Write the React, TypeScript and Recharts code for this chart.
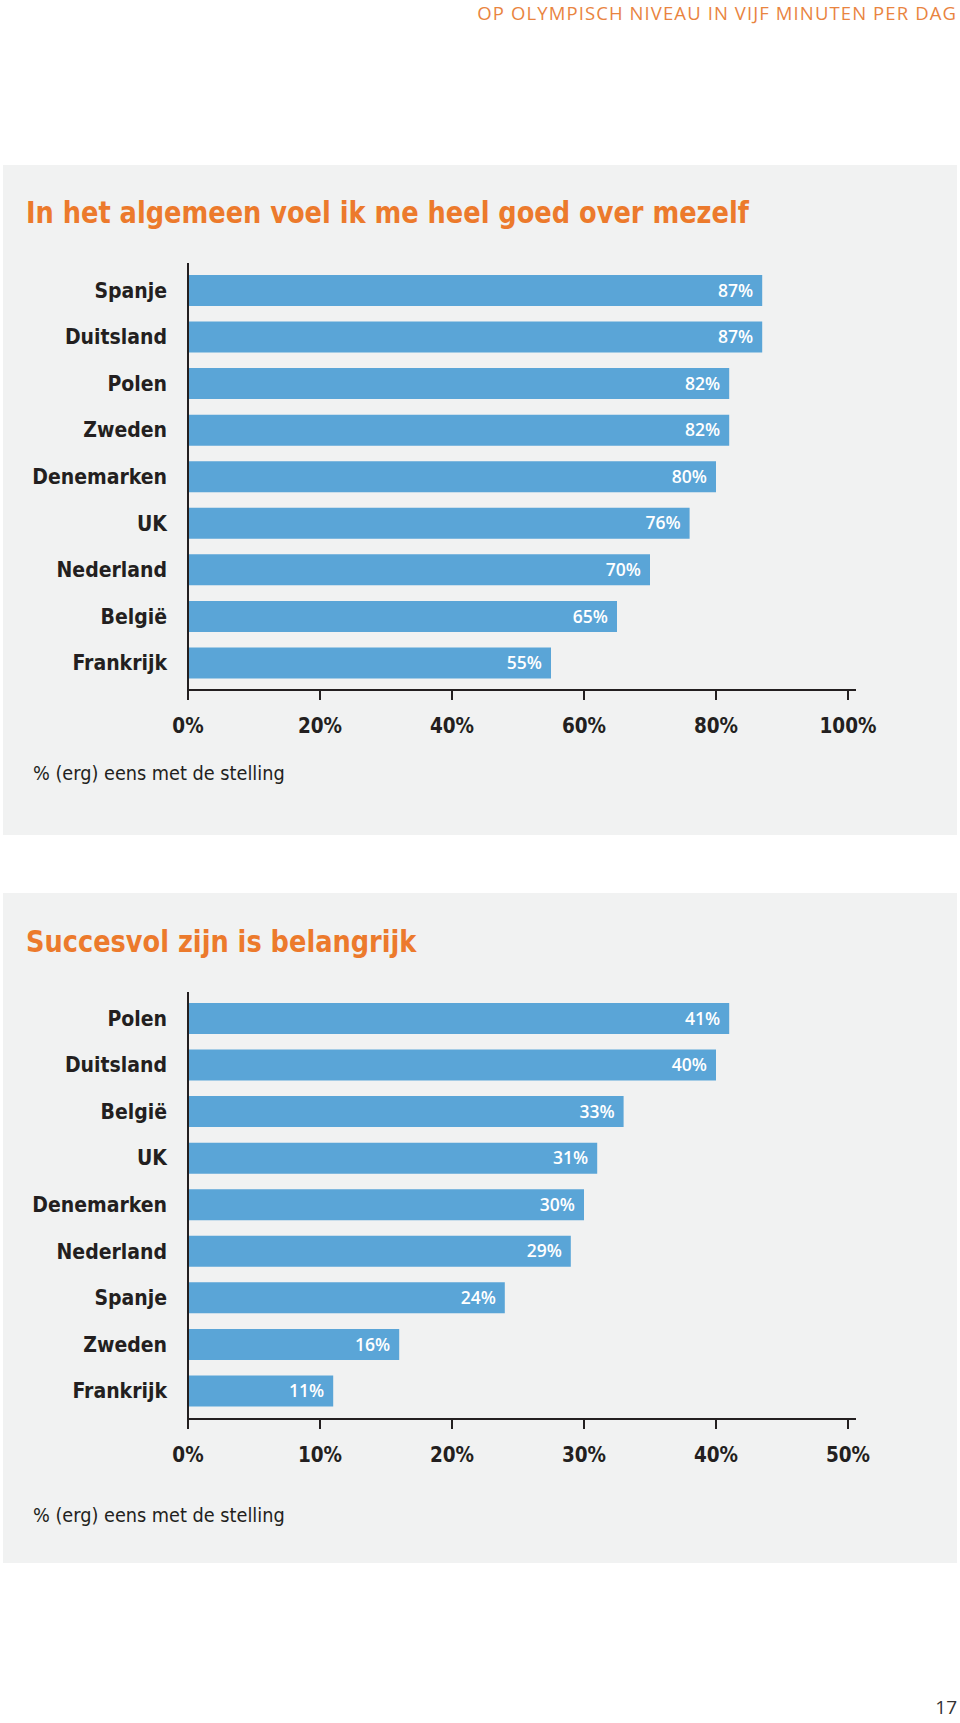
import { BarChart, Bar, XAxis, YAxis, LabelList } from "recharts"

// Grafiek 1: In het algemeen voel ik me heel goed over mezelf
const landen1 = ["Spanje", "Duitsland", "Polen", "Zweden", "Denemarken", "UK", "Nederland", "België", "Frankrijk"]
const waarden1 = [87, 87, 82, 82, 80, 76, 70, 65, 55]
const ticks1 = [0, 20, 40, 60, 80, 100]

// Grafiek 2: Succesvol zijn is belangrijk
const landen2 = ["Polen", "Duitsland", "België", "UK", "Denemarken", "Nederland", "Spanje", "Zweden", "Frankrijk"]
const waarden2 = [41, 40, 33, 31, 30, 29, 24, 16, 11]
const ticks2 = [0, 10, 20, 30, 40, 50]

const BLAUW = "#5aa5d7"
const ORANJE = "#ec7a2c"
const GRIJS = "#f1f2f2"
const ZWART = "#231f20"
const smal = "'DejaVu Sans Condensed', 'DejaVu Sans', sans-serif"

type GrafiekProps = {
    plotTop: number
    landen: string[]
    waarden: number[]
    ticks: number[]
    max: number
    padding: { top: number; bottom: number }
}

function Grafiek({ plotTop, landen, waarden, ticks, max, padding }: GrafiekProps) {
    const data = landen.map((land, i) => ({ land, waarde: waarden[i] }))
    const lijn = { stroke: ZWART, strokeWidth: 2 }

    return (
        <div style={{ position: "absolute", left: 0, top: plotTop - 10 }}>
            <BarChart
                width={960}
                height={497}
                data={data}
                layout="vertical"
                margin={{ top: 10, right: 104, left: 0, bottom: 0 }}
            >
                <XAxis
                    type="number"
                    domain={[0, max]}
                    ticks={ticks}
                    interval={0}
                    padding={{ left: 0, right: 8 }}
                    height={60}
                    tickSize={10}
                    tickMargin={18}
                    axisLine={lijn}
                    tickLine={lijn}
                    tickFormatter={(v) => `${v}%`}
                    tick={{ fill: ZWART, fontSize: 20.5, fontWeight: 700, fontFamily: smal, fontStretch: "condensed" }}
                />
                <YAxis
                    type="category"
                    dataKey="land"
                    width={188}
                    interval={0}
                    padding={padding}
                    tickLine={false}
                    tickSize={0}
                    tickMargin={21}
                    axisLine={lijn}
                    tick={{ fill: ZWART, fontSize: 21, fontWeight: 700, fontFamily: smal, fontStretch: "condensed" }}
                />
                <Bar dataKey="waarde" fill={BLAUW} barSize={31} isAnimationActive={false}>
                    <LabelList
                        dataKey="waarde"
                        position="insideRight"
                        offset={9}
                        formatter={(v: any) => `${v}%`}
                        fill="#ffffff"
                        fontSize={17.5}
                        fontWeight={600}
                        fontFamily="'Open Sans', sans-serif"
                    />
                </Bar>
            </BarChart>
        </div>
    )
}

const titelStijl = {
    position: "absolute" as const,
    left: 26,
    fontFamily: smal,
    fontStretch: "condensed",
    fontWeight: 700,
    fontSize: 31,
    lineHeight: "31px",
    color: ORANJE,
    whiteSpace: "nowrap" as const,
    transform: "scaleX(0.92)",
    transformOrigin: "left top",
}

const voetStijl = {
    position: "absolute" as const,
    left: 33,
    fontFamily: smal,
    fontStretch: "condensed",
    fontSize: 19.7,
    lineHeight: "19.7px",
    color: ZWART,
    whiteSpace: "nowrap" as const,
}

export default function App() {
    return (
        <div
            style={{
                position: "absolute",
                left: 0,
                top: 0,
                width: 960,
                height: 1723,
                background: "#ffffff",
                overflow: "hidden",
            }}
        >
            <div
                style={{
                    position: "absolute",
                    right: 3,
                    top: 4,
                    fontFamily: "'Open Sans', sans-serif",
                    fontSize: 18.5,
                    lineHeight: "18.5px",
                    color: "#e9843f",
                    letterSpacing: 1.1,
                    whiteSpace: "nowrap",
                }}
            >
                OP OLYMPISCH NIVEAU IN VIJF MINUTEN PER DAG
            </div>

            <div style={{ position: "absolute", left: 3, top: 165, width: 954, height: 670, background: GRIJS }} />
            <div style={{ ...titelStijl, top: 197 }}>In het algemeen voel ik me heel goed over mezelf</div>
            <Grafiek plotTop={263} landen={landen1} waarden={waarden1} ticks={ticks1} max={100} padding={{ top: 4, bottom: 4 }} />
            <div style={{ ...voetStijl, top: 764 }}>% (erg) eens met de stelling</div>

            <div style={{ position: "absolute", left: 3, top: 893, width: 954, height: 670, background: GRIJS }} />
            <div style={{ ...titelStijl, top: 925.5 }}>Succesvol zijn is belangrijk</div>
            <Grafiek plotTop={992} landen={landen2} waarden={waarden2} ticks={ticks2} max={50} padding={{ top: 3, bottom: 5 }} />
            <div style={{ ...voetStijl, top: 1505.5 }}>% (erg) eens met de stelling</div>

            <div
                style={{
                    position: "absolute",
                    right: 3,
                    top: 1698,
                    fontFamily: "'Open Sans', sans-serif",
                    fontSize: 19,
                    lineHeight: "19px",
                    color: "#333333",
                }}
            >
                17
            </div>
        </div>
    )
}
